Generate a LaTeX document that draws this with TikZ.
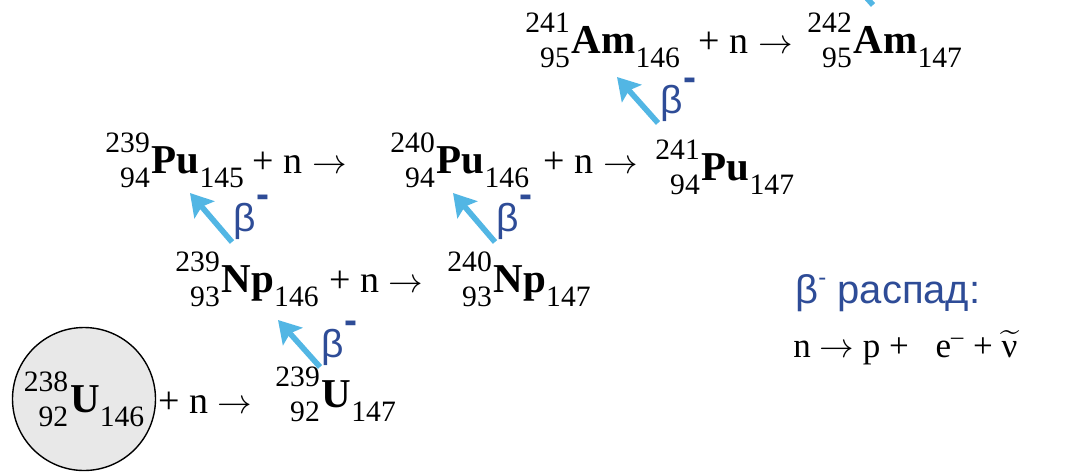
\documentclass[tikz,border=0pt]{standalone}
\usepackage{amsmath}
\usepackage{fontspec}
\setmainfont{Liberation Serif}
\newfontfamily\sansru{Liberation Sans}
\usetikzlibrary{arrows.meta,positioning,calc}
\definecolor{betablue}{HTML}{2E4C97}
\definecolor{skyarrow}{HTML}{52B6E4}
\definecolor{coregrey}{HTML}{E8E8E8}
\newcommand{\numfont}{\fontsize{14.8}{14.8}\selectfont}
\newcommand{\symfont}{\fontsize{20.5}{20.5}\selectfont\bfseries}
% nuclide: mass number, charge, symbol, neutrons
\newcommand{\nuc}[4]{\raisebox{10.5pt}{\numfont #1}\llap{\raisebox{-7pt}{\numfont #2}}\kern1pt{\symfont #3}\raisebox{-7pt}{\numfont #4}}
\newcommand{\betam}{β\kern0.3pt\raisebox{0.6em}{\bfseries -}}
\newcommand{\capn}{+ n $\rightarrow$}
\tikzset{
    every picture/.style={line join=round},
    nuclide/.style={inner sep=0pt,anchor=base west},
    reaction/.style={inner sep=0pt,font=\fontsize{19}{19}\selectfont},
    target/.style={circle,draw=black,fill=coregrey,line width=0.7pt,
      minimum size=71.5pt,inner sep=0pt},
    decay/.style={-{Stealth[length=11pt,width=13pt,inset=2pt]},draw=skyarrow,
      line width=2.8pt},
    betalbl/.style={text=betablue,inner sep=1pt,
      font=\sansru\fontsize{19.5}{19.5}\selectfont}
}
\begin{document}
\begin{tikzpicture}[x=0.5pt,y=-0.5pt]
    \useasboundingbox (0,0) rectangle (1086,472);
    \clip (0,0) rectangle (1086,472);
    % chain of nuclides
    \node[target] (u238) at (84,399) {\nuc{238}{92}{U}{146}};
    \node[nuclide] (u239) at (275,407) {\nuc{239}{92}{U}{147}};
    \node[nuclide] (np239) at (175,292) {\nuc{239}{93}{Np}{146}};
    \node[nuclide] (np240) at (447,292) {\nuc{240}{93}{Np}{147}};
    \node[nuclide] (pu239) at (105,173) {\nuc{239}{94}{Pu}{145}};
    \node[nuclide] (pu240) at (390,173) {\nuc{240}{94}{Pu}{146}};
    \node[nuclide] (pu241) at (655,180) {\nuc{241}{94}{Pu}{147}};
    \node[nuclide] (am241) at (525,53) {\nuc{241}{95}{Am}{146}};
    \node[nuclide] (am242) at (807,53) {\nuc{242}{95}{Am}{147}};
    \coordinate (cm242) at (832,-41);
    % neutron capture
    \node[reaction,anchor=base west] (cap1) at (158,413) {\capn};
    \node[reaction,base right=5pt of np239] (cap2) {\capn};
    \node[reaction,base right=4pt of pu239] (cap3) {\capn};
    \node[reaction,base right=7pt of pu240] (cap4) {\capn};
    \node[reaction,base right=9pt of am241] (cap5) {\capn};
    % beta decays
    \draw[decay] ([shift={(45,-40)}]u239.base west) -- ([shift={(103,28)}]np239.base west)
        node[betalbl,pos=0.5,right=9pt] {\betam};
    \draw[decay] ([shift={(57,-50)}]np239.base west) -- ([shift={(85,20)}]pu239.base west)
        node[betalbl,pos=0.5,right=9pt] {\betam};
    \draw[decay] ([shift={(48,-50)}]np240.base west) -- ([shift={(63,20)}]pu240.base west)
        node[betalbl,pos=0.5,right=9pt] {\betam};
    \draw[decay] ([shift={(3,-57)}]pu241.base west) -- ([shift={(92,24)}]am241.base west)
        node[betalbl,pos=0.5,right=9pt] {\betam};
    \draw[decay] ([shift={(66,-48)}]am242.base west) -- (cm242);
    % legend
    \node[betalbl,anchor=base west,font=\sansru\fontsize{20}{20}\selectfont] (title) at (793,303)
        {β\raisebox{0.45em}{\fontsize{12}{12}\selectfont -} распад:};
    \node[reaction,anchor=base west,font=\fontsize{17.5}{17.5}\selectfont] (scheme) at (793,357)
        {n $\rightarrow$ p +\hspace{9pt} e\textsuperscript{–} + $\widetilde{\hbox{ν}}$};
\end{tikzpicture}
\end{document}
